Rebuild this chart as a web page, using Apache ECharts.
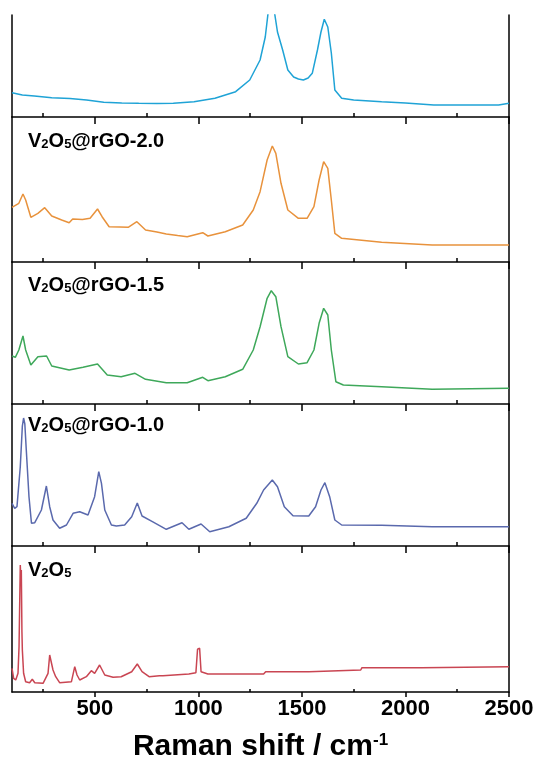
<!DOCTYPE html>
<html>
<head>
<meta charset="utf-8">
<script src="https://cdn.jsdelivr.net/npm/echarts@6/dist/echarts.min.js"></script>
<style>
  html, body { margin: 0; padding: 0; background: #fff; }
  #chart { width: 542px; height: 769px; }
</style>
</head>
<body>
<div id="chart"></div>
<script>
// Raman shift (cm-1) and intensity (a.u.), one pair of arrays per sample
const rgoShift = [100, 150, 208, 292, 380, 460, 543, 630, 712, 800, 879, 979, 1080, 1180, 1248, 1298, 1323, 1340, 1352, 1365, 1382, 1407, 1432, 1460, 1483, 1507, 1530, 1550, 1575, 1592, 1608, 1625, 1642, 1659, 1692, 1750, 1885, 2000, 2137, 2300, 2450, 2500]
const rgoInt = [24.3, 22, 21, 19.3, 18.5, 17, 14.7, 14, 13.7, 13.5, 13.7, 15.3, 18.7, 25.3, 37, 57, 80, 110, 118, 108, 85, 67, 47, 40, 38, 37, 39, 43.7, 67, 85, 97.7, 90, 64, 27, 18.7, 17, 15.3, 14, 12, 12, 12, 13.7]

const rgo20Shift = [100, 133, 153, 166, 191, 225, 258, 292, 340, 376, 393, 440, 477, 513, 535, 569, 620, 661, 703, 745, 800, 845, 900, 946, 1021, 1046, 1130, 1214, 1265, 1298, 1332, 1357, 1374, 1399, 1432, 1483, 1525, 1558, 1583, 1605, 1625, 1642, 1659, 1692, 1885, 2129, 2500]
const rgo20Int = [54.7, 58.7, 68, 62, 44.7, 48.7, 54.3, 46, 42, 39.3, 43, 42.5, 43.7, 53, 45.3, 35.3, 35, 34.7, 40.3, 32, 30, 28, 26.5, 25.3, 29.3, 26, 30.3, 37, 52, 70.3, 102, 116, 108.7, 78.7, 52, 43.7, 43.7, 55.3, 82, 100.3, 93.7, 62, 28.7, 23.7, 19.7, 17, 17]

const rgo15Shift = [100, 116, 133, 153, 166, 191, 225, 267, 292, 376, 443, 513, 560, 627, 694, 745, 845, 946, 1021, 1046, 1130, 1214, 1265, 1298, 1332, 1352, 1374, 1399, 1432, 1483, 1525, 1558, 1583, 1605, 1625, 1642, 1664, 1700, 1885, 2129, 2500]
const rgo15Int = [48, 46.7, 54, 68, 54, 39, 47.3, 48, 38, 34, 36.7, 40, 29, 27.3, 30.7, 24.7, 21.3, 21.3, 26.7, 23.3, 27.3, 34.7, 54, 77.3, 105.7, 113.3, 107.3, 77.3, 47.3, 40, 41.3, 54, 80.7, 95.7, 89, 54, 22.3, 19, 17.3, 14.7, 15.7]

const rgo10Shift = [100, 113, 124, 140, 150, 156, 162, 169, 182, 194, 210, 242, 266, 282, 298, 330, 363, 395, 427, 467, 499, 519, 532, 548, 580, 604, 644, 678, 705, 728, 778, 845, 921, 954, 1013, 1055, 1147, 1231, 1282, 1315, 1357, 1382, 1415, 1457, 1533, 1566, 1592, 1611, 1634, 1659, 1692, 1885, 2129, 2500]
const rgo10Int = [42.7, 37.7, 39.3, 79.3, 120, 128, 122, 96, 49.3, 22.7, 23.3, 36, 60, 39.3, 26, 17.7, 21, 32.7, 34.3, 31, 49.3, 74.3, 62.7, 36, 21, 20, 21, 29.3, 43, 30, 24.3, 16.7, 23.3, 16.7, 22, 14.3, 19.3, 27.7, 42.7, 56, 66, 59.3, 39.3, 30.3, 30, 39.3, 56, 63.3, 49.3, 26, 21, 20.7, 19.3, 19.3]

const v2o5Shift = [100, 108, 118, 129, 134, 140, 143, 145, 148, 150, 156, 166, 185, 198, 210, 250, 274, 282, 290, 298, 311, 330, 387, 403, 414, 427, 459, 483, 499, 523, 548, 588, 627, 678, 705, 728, 762, 812, 829, 954, 988, 996, 1000, 1006, 1013, 1046, 1315, 1325, 1533, 1540, 1784, 1790, 2078, 2085, 2500]
const v2o5Int = [23.7, 13.7, 12, 18.7, 45.3, 127, 112, 122, 60, 42, 18.7, 10.3, 9.3, 12.7, 9.3, 8.7, 18.7, 37, 35.3, 22, 15.3, 9.3, 10.3, 25.3, 17, 12, 15.3, 21.3, 18.7, 27, 17, 14.7, 15.3, 20.3, 28, 20.3, 15.3, 16.3, 16.3, 18, 19.3, 42.7, 43.7, 43.7, 20.3, 18, 18, 20.3, 20.3, 22, 22, 24.3, 24.3, 25.3, 25.3]

const majorTicks = [500, 1000, 1500, 2000, 2500]
const minorTicks = [250, 750, 1250, 1750, 2250]

// 面板布局（从上到下）
const panels = [
  { name: 'rGO', label: null, color: '#1fa3d6', shift: rgoShift, value: rgoInt, top: 15, height: 102 },
  { name: 'V2O5@rGO-2.0', label: '{m|V}{s|2}{m|O}{s|5}{m|@rGO-2.0}', color: '#e8923c', shift: rgo20Shift, value: rgo20Int, top: 117, height: 145 },
  { name: 'V2O5@rGO-1.5', label: '{m|V}{s|2}{m|O}{s|5}{m|@rGO-1.5}', color: '#3ea85a', shift: rgo15Shift, value: rgo15Int, top: 262, height: 142 },
  { name: 'V2O5@rGO-1.0', label: '{m|V}{s|2}{m|O}{s|5}{m|@rGO-1.0}', color: '#5a69ad', shift: rgo10Shift, value: rgo10Int, top: 404, height: 142 },
  { name: 'V2O5', label: '{m|V}{s|2}{m|O}{s|5}', color: '#c94552', shift: v2o5Shift, value: v2o5Int, top: 546, height: 146 }
]

const FONT = '"Liberation Sans", Arial, sans-serif'
const labelRich = {
  m: { fontFamily: FONT, fontWeight: 'bold', fontSize: 20, color: '#000' },
  s: { fontFamily: FONT, fontWeight: 'bold', fontSize: 13, color: '#000', verticalAlign: 'bottom', padding: [4, 0, 0, 0] }
}

const chart = echarts.init(document.getElementById('chart'), null, { renderer: 'canvas' })
const last = panels.length - 1

const grid = panels.map(p => ({
  left: 12, right: 33, top: p.top, height: p.height,
  outerBoundsMode: 'none'
}))

const lineStyle = { color: '#000', width: 1.5 }

const xAxis = []
panels.forEach((p, i) => {
  const isLast = i === last
  xAxis.push({
    type: 'value', gridIndex: i, min: 100, max: 2500,
    axisLine: { show: true, onZero: false, lineStyle },
    axisTick: { show: true, inside: false, length: isLast ? 5 : 7, customValues: majorTicks, lineStyle },
    axisLabel: {
      show: isLast, customValues: majorTicks, margin: 6,
      formatter: v => String(v),
      fontFamily: FONT, fontWeight: 'bold', fontSize: 22, color: '#000'
    },
    splitLine: { show: false },
    name: isLast ? '{m|Raman shift / cm}{p|-1}' : '',
    nameLocation: 'middle', nameGap: 40,
    nameTextStyle: {
      rich: {
        m: { fontFamily: FONT, fontWeight: 'bold', fontSize: 30, color: '#000' },
        p: { fontFamily: FONT, fontWeight: 'bold', fontSize: 17, color: '#000', verticalAlign: 'top' }
      }
    }
  })
})
// 次刻度
panels.forEach((p, i) => {
  xAxis.push({
    type: 'value', gridIndex: i, min: 100, max: 2500,
    axisLine: { show: false },
    axisTick: { show: true, length: i === last ? 3 : 4, customValues: minorTicks, lineStyle },
    axisLabel: { show: false },
    splitLine: { show: false }
  })
})

const yAxis = []
panels.forEach((p, i) => {
  yAxis.push({
    type: 'value', gridIndex: i, min: 0, max: p.height, position: 'left',
    axisLine: { show: true, lineStyle },
    axisTick: { show: false }, axisLabel: { show: false }, splitLine: { show: false }
  })
})
panels.forEach((p, i) => {
  yAxis.push({
    type: 'value', gridIndex: i, min: 0, max: p.height, position: 'right',
    axisLine: { show: true, lineStyle },
    axisTick: { show: false }, axisLabel: { show: false }, splitLine: { show: false }
  })
})

const series = panels.map((p, i) => ({
  name: p.name,
  type: 'line',
  xAxisIndex: i,
  yAxisIndex: i,
  data: p.shift.map((s, k) => [s, p.value[k]]),
  showSymbol: false,
  clip: true,
  lineStyle: { color: p.color, width: 1.5 },
  itemStyle: { color: p.color },
  animation: false
}))

const labelOffsets = [0, 26, 25, 23, 26]
const graphic = panels
  .map((p, i) => p.label ? {
    type: 'text', left: 28, top: p.top + labelOffsets[i] - 12,
    style: { text: p.label, rich: labelRich }
  } : null)
  .filter(Boolean)

chart.setOption({
  backgroundColor: '#fff',
  animation: false,
  grid,
  xAxis,
  yAxis,
  series,
  graphic
})
</script>
</body>
</html>
